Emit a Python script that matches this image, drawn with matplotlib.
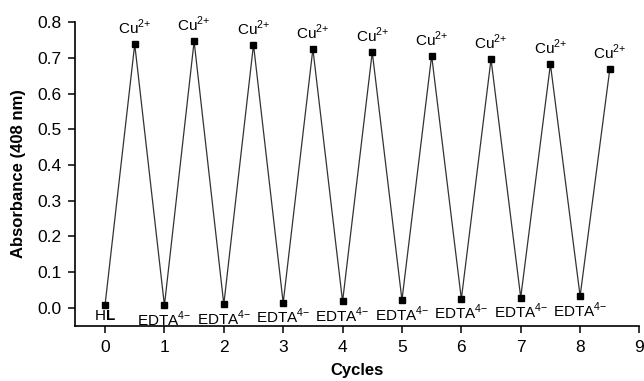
import matplotlib
matplotlib.use('Agg')
from matplotlib import pyplot as plt

plt.rcParams['font.family'] = ['Liberation Sans', 'DejaVu Sans']
plt.rcParams['mathtext.fontset'] = 'custom'
plt.rcParams['mathtext.rm'] = 'Liberation Sans'
plt.rcParams['mathtext.bf'] = 'Liberation Sans:bold'

# cycle positions and absorbance values
cycles = [0, 0.5, 1, 1.5, 2, 2.5, 3, 3.5, 4, 4.5, 5, 5.5, 6, 6.5, 7, 7.5, 8, 8.5]
absorbance = [0.008, 0.738, 0.007, 0.746, 0.010, 0.737, 0.014, 0.725, 0.018,
              0.716, 0.022, 0.706, 0.025, 0.696, 0.029, 0.682, 0.033, 0.668]
labels = ['H$\\mathbf{L}$'] + ['Cu$^{2{+}}$', 'EDTA$^{4{-}}$'] * 8 + ['Cu$^{2{+}}$']

fig = plt.figure(figsize=(6.44, 3.81), dpi=100)
ax = fig.add_axes([0.117, 0.145, 0.876, 0.797])

ax.plot(cycles, absorbance, '-', color='#333333', lw=0.9,
        marker='s', markersize=4, markerfacecolor='black', markeredgecolor='black')

for x, y, lab in zip(cycles, absorbance, labels):
    if lab.startswith('Cu'):
        ax.annotate(lab, (x, y), xytext=(0, 5), textcoords='offset points',
                    ha='center', va='bottom', fontsize=11)
    else:
        ax.annotate(lab, (x, y), xytext=(0, -3), textcoords='offset points',
                    ha='center', va='top', fontsize=11)

ax.set_xlim(-0.5, 9)
ax.set_ylim(-0.05, 0.8)
ax.set_xticks(range(10))
ax.set_yticks([0.0, 0.1, 0.2, 0.3, 0.4, 0.5, 0.6, 0.7, 0.8])
ax.set_yticklabels(['0.0', '0.1', '0.2', '0.3', '0.4', '0.5', '0.6', '0.7', '0.8'])
ax.tick_params(labelsize=12.5, width=1.1, length=5, pad=5)

for side in ['top', 'right']:
    ax.spines[side].set_visible(False)
for side in ['left', 'bottom']:
    ax.spines[side].set_linewidth(1.2)

ax.set_xlabel('Cycles', fontsize=12, fontweight='bold', labelpad=6)
ax.set_ylabel('Absorbance (408 nm)', fontsize=12, fontweight='bold', labelpad=8)

fig.savefig('out.png', dpi=100)
